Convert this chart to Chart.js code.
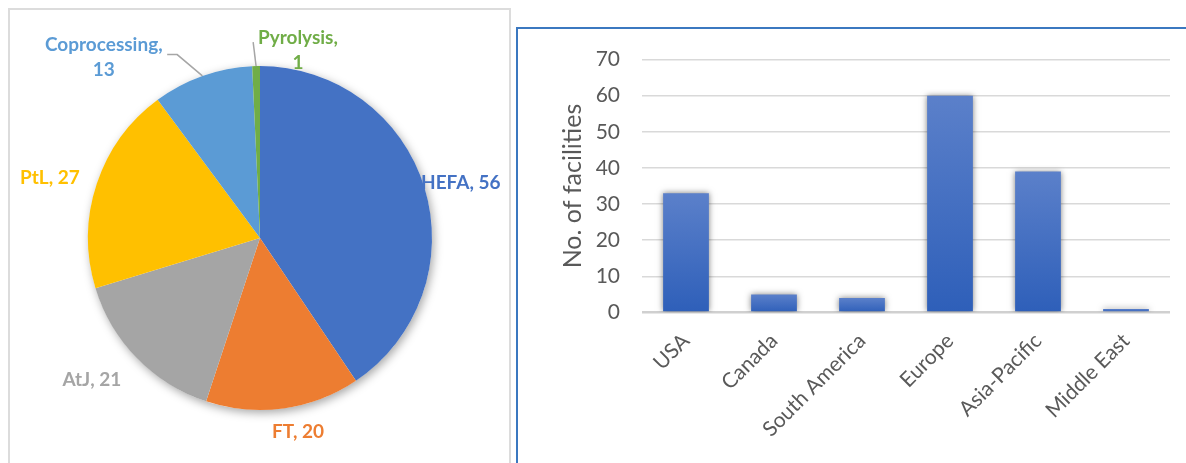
<!DOCTYPE html>
<html>
<head>
<meta charset="utf-8">
<script src="https://cdn.jsdelivr.net/npm/chart.js@4/dist/chart.umd.min.js"></script>
<style>
  html, body { margin: 0; padding: 0; background: #fff; overflow: hidden; }
  body { width: 1186px; height: 463px; position: relative; }
  #pie-box {
    position: absolute; left: 8px; top: 8px; width: 503px; height: 480px;
    border: 2px solid #dcdcdc; box-sizing: border-box;
  }
  #bar-box {
    position: absolute; left: 516px; top: 27px; width: 690px; height: 460px;
    border: 2px solid #3b78c0; box-sizing: border-box; overflow: hidden;
  }
  canvas { position: absolute; left: 0; top: 0; }
  #bar-chart { top: -4px; }
</style>
</head>
<body>
<div id="pie-box"><canvas id="pie-chart" width="499" height="476"></canvas></div>
<div id="bar-box"><canvas id="bar-chart" width="686" height="460"></canvas></div>
<script>
// pie: facilities by pathway
const pathways = ["HEFA", "FT", "AtJ", "PtL", "Coprocessing", "Pyrolysis"];
const pathwayCounts = [56, 20, 21, 27, 13, 1];
const pathwayColors = ["#4472c4", "#ed7d31", "#a5a5a5", "#ffc000", "#5b9bd5", "#70ad47"];

// bar: facilities by region
const regions = ["USA", "Canada", "South America", "Europe", "Asia-Pacific", "Middle East"];
const regionCounts = [33, 5, 4, 60, 39, 1];
const yTicks = [0, 10, 20, 30, 40, 50, 60, 70];

// label placement around the pie (clockwise degrees from top, radius factor)
const labelPlace = [
    { a: 74.7, r: 1.21 },
    { a: 168.9, r: 1.15 },
    { a: 229.8, r: 1.28 },
    { a: 285.9, r: 1.27 },
    { a: 319.2, r: 1.39, wrap: true, elbow: { a: 335.7, r: 1.17 }, tail: -10 },
    { a: 11.4, r: 1.115, wrap: true, elbow: { a: 358.0, r: 1.14 }, tail: 0 },
];

const polar = (arc, a, r) => {
    const rad = (a * Math.PI) / 180;
    return { x: arc.x + Math.sin(rad) * r, y: arc.y - Math.cos(rad) * r };
};

const pieShadow = {
    id: "pieShadow",
    beforeDatasetsDraw(chart) {
        const arc = chart.getDatasetMeta(0).data[0];
        if (!arc) return;
        const c = chart.ctx;
        c.save();
        c.shadowColor = "rgba(0,0,0,0.35)";
        c.shadowBlur = 10;
        c.shadowOffsetX = 2;
        c.shadowOffsetY = 3;
        c.fillStyle = "#ffffff";
        c.beginPath();
        c.arc(arc.x, arc.y, arc.outerRadius, 0, Math.PI * 2);
        c.fill();
        c.restore();
    },
};

const pieLabels = {
    id: "pieLabels",
    afterDatasetsDraw(chart) {
        const meta = chart.getDatasetMeta(0);
        const total = pathwayCounts.reduce((s, v) => s + v, 0);
        const c = chart.ctx;
        let start = 0;
        c.save();
        c.font = "bold 19px Lato";
        c.textAlign = "center";
        c.textBaseline = "middle";
        meta.data.forEach((arc, i) => {
            const share = (pathwayCounts[i] / total) * 360;
            const mid = start + share / 2;
            start += share;
            const p = labelPlace[i];
            const R = arc.outerRadius;
            const pos = polar(arc, p.a, R * p.r);
            if (p.elbow) {
                const from = polar(arc, mid, R);
                const knee = polar(arc, p.elbow.a, R * p.elbow.r);
                c.strokeStyle = "#a6a6a6";
                c.lineWidth = 1.5;
                c.beginPath();
                c.moveTo(from.x, from.y);
                c.lineTo(knee.x, knee.y);
                if (p.tail) c.lineTo(knee.x + p.tail, knee.y);
                c.stroke();
            }
            c.fillStyle = pathwayColors[i];
            if (p.wrap) {
                c.fillText(pathways[i] + ",", pos.x, pos.y - 12.5);
                c.fillText(String(pathwayCounts[i]), pos.x, pos.y + 12.5);
            } else {
                c.fillText(pathways[i] + ", " + pathwayCounts[i], pos.x, pos.y);
            }
        });
        c.restore();
    },
};

new Chart(document.getElementById("pie-chart"), {
    type: "pie",
    data: {
        labels: pathways,
        datasets: [{ data: pathwayCounts, backgroundColor: pathwayColors, borderWidth: 0 }],
    },
    options: {
        responsive: false,
        animation: false,
        layout: { padding: { left: 78, right: 77, top: 56, bottom: 76 } },
        plugins: { legend: { display: false }, tooltip: { enabled: false } },
    },
    plugins: [pieShadow, pieLabels],
});

const barShadow = {
    id: "barShadow",
    beforeDatasetDraw(chart) {
        const c = chart.ctx;
        c.save();
        c.shadowColor = "rgba(0,0,0,0.5)";
        c.shadowBlur = 6;
        c.shadowOffsetX = 0;
        c.shadowOffsetY = 0;
    },
    afterDatasetDraw(chart) {
        chart.ctx.restore();
    },
};

new Chart(document.getElementById("bar-chart"), {
    type: "bar",
    data: {
        labels: regions,
        datasets: [
            {
                data: regionCounts,
                barPercentage: 0.52,
                categoryPercentage: 1,
                borderWidth: 0,
                backgroundColor: (ctx) => {
                    const y = ctx.chart.scales.y;
                    if (ctx.type !== "data" || !y) return "#4472c4";
                    const top = y.getPixelForValue(ctx.raw);
                    const base = y.getPixelForValue(0);
                    if (!isFinite(top) || !isFinite(base) || base - top < 1) return "#4a78cc";
                    const g = ctx.chart.ctx.createLinearGradient(0, top, 0, base);
                    g.addColorStop(0, "#5b80ca");
                    g.addColorStop(1, "#2e5fb9");
                    return g;
                },
            },
        ],
    },
    options: {
        responsive: false,
        animation: false,
        layout: { padding: { top: 25, right: 34, left: 0, bottom: 0 } },
        plugins: { legend: { display: false }, tooltip: { enabled: false } },
        scales: {
            x: {
                grid: { display: false },
                border: { display: false },
                ticks: {
                    color: "#595959",
                    font: { family: "Lato", size: 21 },
                    maxRotation: 45,
                    minRotation: 45,
                    padding: 8,
                    labelOffset: 0,
                },
                afterFit: (scale) => { scale.height = 172.5; },
            },
            y: {
                min: 0,
                max: 70,
                afterBuildTicks: (scale) => { scale.ticks = yTicks.map((v) => ({ value: v })); },
                grid: {
                    drawTicks: false,
                    color: (ctx) => (ctx.tick && ctx.tick.value === 0 ? "#d0d0d0" : "#d9d9d9"),
                    lineWidth: (ctx) => (ctx.tick && ctx.tick.value === 0 ? 2.5 : 1.5),
                },
                border: { display: false },
                ticks: { color: "#595959", font: { family: "Lato", size: 21 }, padding: 22 },
                title: {
                    display: true,
                    text: "No. of facilities",
                    color: "#595959",
                    font: { family: "Lato", size: 25 },
                    padding: { top: 40, bottom: 0 },
                },
                afterFit: (scale) => { scale.width = 124; },
            },
        },
    },
    plugins: [barShadow],
});
</script>
</body>
</html>
